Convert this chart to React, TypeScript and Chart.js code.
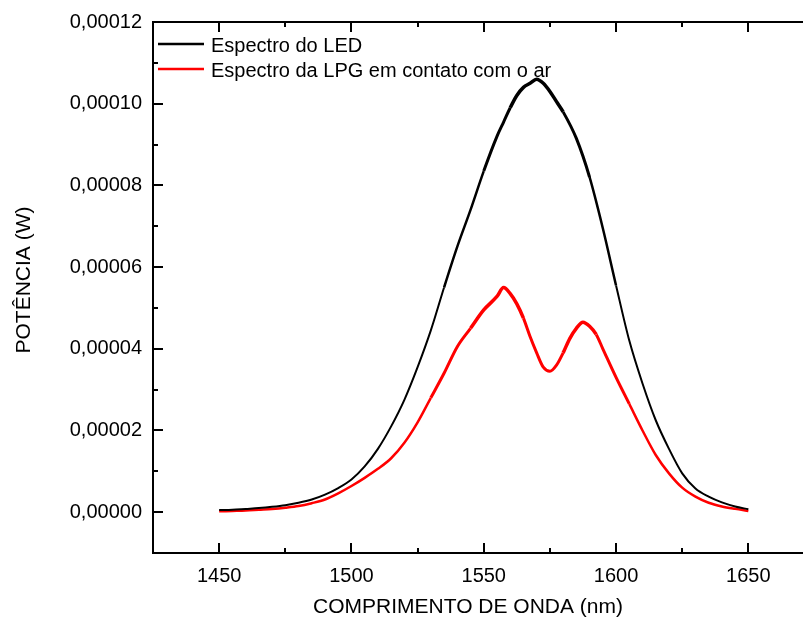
import React, { useEffect, useRef } from 'react';
import { Chart, registerables } from 'chart.js';

Chart.register(...registerables);

// ---- Data (power in microwatts, converted to W when building datasets) ----
const seriesLabels = ['Espectro do LED', 'Espectro da LPG em contato com o ar'];
const seriesColors = ['#000000', '#ff0000'];

const ledWavelength = [
  1450, 1455, 1460, 1465, 1470, 1475, 1480, 1485, 1490, 1495, 1500, 1505, 1510, 1515, 1520,
  1525, 1530, 1535, 1540, 1545, 1550, 1555, 1557.5, 1560, 1562.5, 1565, 1567.5, 1570, 1572.5,
  1575, 1577.5, 1580, 1585, 1590, 1595, 1600, 1605, 1610, 1615, 1620, 1625, 1630, 1635, 1640,
  1645, 1650,
];
const ledPowerMicroW = [
  0.5, 0.6, 0.8, 1.0, 1.3, 1.7, 2.3, 3.1, 4.3, 5.9, 8.0, 11.2, 15.5, 21.0, 27.5,
  35.5, 44.5, 55.0, 65.0, 74.0, 83.5, 92.0, 95.5, 99.0, 102.0, 104.0, 105.0, 106.0, 105.0,
  103.0, 100.5, 98.0, 91.5, 82.0, 69.5, 55.5, 42.0, 31.5, 22.5, 15.5, 9.5, 5.8, 3.8, 2.4,
  1.4, 0.7,
];

const lpgWavelength = [
  1450, 1455, 1460, 1465, 1470, 1475, 1480, 1485, 1490, 1495, 1500, 1505, 1510, 1515, 1520,
  1525, 1530, 1535, 1540, 1545, 1550, 1555, 1557.5, 1560, 1562.5, 1565, 1567.5, 1570, 1572.5,
  1575, 1577.5, 1580, 1582.5, 1585, 1587.5, 1590, 1592.5, 1595, 1600, 1605, 1610, 1615, 1620,
  1625, 1630, 1635, 1640, 1645, 1650,
];
const lpgPowerMicroW = [
  0.2, 0.3, 0.4, 0.6, 0.8, 1.1, 1.5, 2.2, 3.1, 4.6, 6.4, 8.4, 10.6, 13.2, 17.0,
  22.0, 28.0, 34.0, 40.5, 45.0, 49.5, 52.8, 55.0, 53.5, 51.0, 47.5, 43.0, 39.0, 35.5,
  34.5, 36.0, 39.0, 42.5, 45.0, 46.5, 45.5, 43.5, 40.0, 33.0, 26.5, 20.0, 14.0, 9.5,
  6.0, 3.8, 2.3, 1.4, 0.8, 0.3,
];

// wavelength bands where the measured trace is noisy (drawn progressively thicker)
const ledNoiseBands: [number, number, number][] = [
  [1535, 1600, 2.5],
  [1548, 1592, 3],
  [1558, 1582, 3.5],
];
const lpgNoiseBands: [number, number, number][] = [
  [1530, 1605, 3],
  [1545, 1565, 3.5],
  [1580, 1593, 3.5],
];

const xTickValues = [1450, 1500, 1550, 1600, 1650];
const xMinorTickValues = [1475, 1525, 1575, 1625, 1675];
const yTickValues = [0, 0.00002, 0.00004, 0.00006, 0.00008, 0.0001, 0.00012];
const yTickLabels = ['0,00000', '0,00002', '0,00004', '0,00006', '0,00008', '0,00010', '0,00012'];
const yMinorTickValues = [0.00001, 0.00003, 0.00005, 0.00007, 0.00009, 0.00011];

const xTitle = 'COMPRIMENTO DE ONDA (nm)';
const yTitle = 'POTÊNCIA (W)';

const FONT = '"Liberation Sans", Arial, Helvetica, sans-serif';

const framePlugin = {
  id: 'originFrame',
  afterDraw(chart: any) {
    const { ctx, chartArea, scales } = chart;
    const { left, right, top, bottom } = chartArea;
    const xs = scales.x;
    const ys = scales.y;
    ctx.save();
    ctx.strokeStyle = '#000';
    ctx.lineWidth = 2;
    ctx.lineCap = 'butt';
    // axis lines
    ctx.beginPath();
    ctx.moveTo(left - 1, top);
    ctx.lineTo(right, top);
    ctx.moveTo(left, top - 1);
    ctx.lineTo(left, bottom + 1);
    ctx.moveTo(left - 1, bottom);
    ctx.lineTo(right, bottom);
    ctx.stroke();
    // ticks (inward)
    const major = 10;
    const minor = 5;
    ctx.beginPath();
    xTickValues.forEach((v) => {
      const px = Math.round(xs.getPixelForValue(v));
      ctx.moveTo(px, bottom);
      ctx.lineTo(px, bottom - major);
      ctx.moveTo(px, top);
      ctx.lineTo(px, top + major);
    });
    xMinorTickValues.forEach((v) => {
      const px = Math.round(xs.getPixelForValue(v));
      ctx.moveTo(px, bottom);
      ctx.lineTo(px, bottom - minor);
      ctx.moveTo(px, top);
      ctx.lineTo(px, top + minor);
    });
    yTickValues.forEach((v) => {
      const py = Math.round(ys.getPixelForValue(v));
      ctx.moveTo(left, py);
      ctx.lineTo(left + major, py);
    });
    yMinorTickValues.forEach((v) => {
      const py = Math.round(ys.getPixelForValue(v));
      ctx.moveTo(left, py);
      ctx.lineTo(left + minor, py);
    });
    ctx.stroke();

    // titles
    ctx.fillStyle = '#000';
    ctx.font = `21px ${FONT}`;
    ctx.textAlign = 'center';
    ctx.textBaseline = 'middle';
    ctx.fillText(xTitle, 468, 607);
    ctx.save();
    ctx.translate(24, 280);
    ctx.rotate(-Math.PI / 2);
    ctx.fillText(yTitle, 0, 0);
    ctx.restore();

    // legend
    ctx.font = `20px ${FONT}`;
    ctx.textAlign = 'left';
    ctx.textBaseline = 'alphabetic';
    chart.data.datasets.forEach((ds: any, i: number) => {
      const ly = 44 + i * 25;
      ctx.strokeStyle = ds.borderColor;
      ctx.lineWidth = 2.5;
      ctx.beginPath();
      ctx.moveTo(158, ly);
      ctx.lineTo(204, ly);
      ctx.stroke();
      ctx.fillStyle = '#000';
      ctx.fillText(ds.label, 211, ly + 7.5);
    });
    ctx.restore();
  },
};

const noisyWidth = (bands: [number, number, number][], base: number) => (c: any) => {
  const x0 = c.p0.parsed.x;
  const x1 = c.p1.parsed.x;
  let w = base;
  bands.forEach(([a, b, bw]) => {
    if (x0 >= a && x1 <= b && bw > w) w = bw;
  });
  return w;
};

export default function App() {
  const ref = useRef<HTMLCanvasElement>(null);
  useEffect(() => {
    const canvas = ref.current;
    if (!canvas) return;
    const chart = new Chart(canvas, {
      type: 'line',
      data: {
        datasets: [
          {
            label: seriesLabels[0],
            data: ledWavelength.map((x, i) => ({ x, y: ledPowerMicroW[i] * 1e-6 })),
            borderColor: seriesColors[0],
            borderWidth: 2,
            segment: { borderWidth: noisyWidth(ledNoiseBands, 2) },
            pointRadius: 0,
            fill: false,
            cubicInterpolationMode: 'monotone',
          },
          {
            label: seriesLabels[1],
            data: lpgWavelength.map((x, i) => ({ x, y: lpgPowerMicroW[i] * 1e-6 })),
            borderColor: seriesColors[1],
            borderWidth: 2.5,
            segment: { borderWidth: noisyWidth(lpgNoiseBands, 2.5) },
            pointRadius: 0,
            fill: false,
            cubicInterpolationMode: 'monotone',
          },
        ],
      },
      options: {
        animation: false,
        responsive: false,
        maintainAspectRatio: false,
        layout: { padding: { left: 0, top: 22, right: 15.5, bottom: 0 } },
        plugins: { legend: { display: false }, tooltip: { enabled: false } },
        scales: {
          x: {
            type: 'linear',
            min: 1425,
            max: 1675,
            afterFit: (s: any) => {
              s.height = 72;
            },
            afterBuildTicks: (s: any) => {
              s.ticks = xTickValues.map((v) => ({ value: v }));
            },
            grid: { display: false },
            border: { display: false },
            ticks: {
              color: '#000',
              font: { family: FONT, size: 20 },
              padding: 3,
              autoSkip: false,
              maxRotation: 0,
              callback: (v: any) => String(v),
            },
          },
          y: {
            type: 'linear',
            min: -0.00001,
            max: 0.00012,
            afterFit: (s: any) => {
              s.width = 153;
            },
            afterBuildTicks: (s: any) => {
              s.ticks = yTickValues.map((v) => ({ value: v }));
            },
            grid: { display: false },
            border: { display: false },
            ticks: {
              color: '#000',
              font: { family: FONT, size: 20 },
              padding: 3,
              autoSkip: false,
              callback: (v: any) => {
                const idx = yTickValues.findIndex((t) => Math.abs(t - v) < 1e-12);
                return idx >= 0 ? yTickLabels[idx] : '';
              },
            },
          },
        },
      } as any,
      plugins: [framePlugin],
    });
    return () => chart.destroy();
  }, []);

  return (
    <div
      style={{
        position: 'fixed',
        left: 0,
        top: 0,
        width: 803,
        height: 625,
        overflow: 'hidden',
        background: '#fff',
      }}
    >
      <canvas ref={ref} width={830} height={625} style={{ display: 'block', width: 830, height: 625 }} />
    </div>
  );
}
